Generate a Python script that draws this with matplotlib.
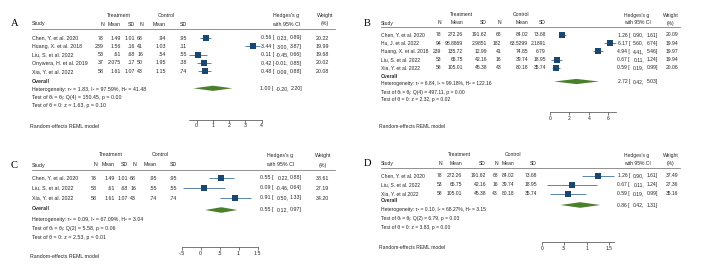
import numpy as np
import matplotlib
matplotlib.use("Agg")
import matplotlib.pyplot as plt
from matplotlib.lines import Line2D

plt.rcParams['font.family'] = ['Liberation Sans', 'DejaVu Sans']

W, H = 709, 277

# ---- Panel A data ----
studies_A = ["Chen, Y. et al. 2020", "Huang, X. et al. 2018", "Liu, S. et al. 2022",
             "Onywera, H. et al. 2019", "Xia, Y. et al. 2022"]
t_n_A = [78, 239, 53, 37, 58]
t_mean_A = [1.49, 1.56, 0.61, 2.075, 1.61]
t_sd_A = [1.01, 0.16, 0.68, 0.17, 1.07]
c_n_A = [68, 41, 16, 50, 43]
c_mean_A = [0.94, 1.03, 0.54, 1.95, 1.15]
c_sd_A = [0.95, 0.11, 0.55, 0.38, 0.74]
es_A = [0.56, 3.44, 0.11, 0.42, 0.48]
lo_A = [0.23, 3.00, -0.45, -0.01, 0.09]
hi_A = [0.89, 3.87, 0.66, 0.85, 0.88]
wt_A = [20.22, 19.99, 19.68, 20.02, 20.08]
overall_A = [1.00, -0.20, 2.20]
het_A = ["Heterogeneity: τ² = 1.83, I² = 97.59%, H² = 41.48",
         "Test of θᵢ = θⱼ: Q(4) = 150.45, p = 0.00",
         "Test of θ = 0: z = 1.63, p = 0.10"]
ticks_A = [0, 1, 2, 3, 4]
ticklabels_A = ["0", "1", "2", "3", "4"]

# ---- Panel B data ----
studies_B = ["Chen, Y. et al. 2020", "Hu, J. et al. 2022", "Huang, X. et al. 2018",
             "Liu, S. et al. 2022", "Xia, Y. et al. 2022"]
t_n_B = [78, 94, 239, 53, 58]
t_mean_B = [272.26, 98.8869, 135.72, 65.75, 105.01]
t_sd_B = [191.62, 2.9851, 12.99, 42.16, 45.38]
c_n_B = [68, 182, 41, 16, 43]
c_mean_B = [84.02, 83.5299, 74.85, 39.74, 80.18]
c_sd_B = [73.68, 2.1891, 6.79, 18.95, 35.74]
es_B = [1.26, 6.17, 4.94, 0.67, 0.59]
lo_B = [0.90, 5.60, 4.41, 0.11, 0.19]
hi_B = [1.61, 6.74, 5.46, 1.24, 0.99]
wt_B = [20.09, 19.94, 19.97, 19.94, 20.06]
overall_B = [2.72, 0.42, 5.03]
het_B = ["Heterogeneity: τ² = 6.84, I² = 99.18%, H² = 122.16",
         "Test of θᵢ = θⱼ: Q(4) = 497.11, p = 0.00",
         "Test of θ = 0: z = 2.32, p = 0.02"]
ticks_B = [0, 2, 4, 6]
ticklabels_B = ["0", "2", "4", "6"]

# ---- Panel C data ----
studies_C = ["Chen, Y. et al. 2020", "Liu, S. et al. 2022", "Xia, Y. et al. 2022"]
t_n_C = [78, 53, 58]
t_mean_C = [1.49, 0.61, 1.61]
t_sd_C = [1.01, 0.68, 1.07]
c_n_C = [68, 16, 43]
c_mean_C = [0.95, 0.55, 0.74]
c_sd_C = [0.95, 0.55, 0.74]
es_C = [0.55, 0.09, 0.91]
lo_C = [0.22, -0.46, 0.50]
hi_C = [0.88, 0.64, 1.33]
wt_C = [38.61, 27.19, 34.20]
overall_C = [0.55, 0.12, 0.97]
het_C = ["Heterogeneity: τ² = 0.09, I² = 67.09%, H² = 3.04",
         "Test of θᵢ = θⱼ: Q(2) = 5.58, p = 0.06",
         "Test of θ = 0: z = 2.53, p = 0.01"]
ticks_C = [-0.5, 0, 0.5, 1, 1.5]
ticklabels_C = ["-.5", "0", ".5", "1", "1.5"]

# ---- Panel D data ----
studies_D = ["Chen, Y. et al. 2020", "Liu, S. et al. 2022", "Xia, Y. et al 2022"]
t_n_D = [78, 53, 58]
t_mean_D = [272.26, 65.75, 105.01]
t_sd_D = [191.62, 42.16, 45.38]
c_n_D = [68, 16, 43]
c_mean_D = [84.02, 39.74, 80.18]
c_sd_D = [73.68, 18.95, 35.74]
es_D = [1.26, 0.67, 0.59]
lo_D = [0.90, 0.11, 0.19]
hi_D = [1.61, 1.24, 0.99]
wt_D = [37.49, 27.36, 35.16]
overall_D = [0.86, 0.42, 1.31]
het_D = ["Heterogeneity: τ² = 0.10, I² = 68.27%, H² = 3.15",
         "Test of θᵢ = θⱼ: Q(2) = 6.79, p = 0.03",
         "Test of θ = 0: z = 3.83, p = 0.00"]
ticks_D = [0, 0.5, 1, 1.5]
ticklabels_D = ["0", ".5", "1", "1.5"]

TXT = '#262626'
NAVY = '#1a476f'
CI_COL = '#3f6f9f'
GREEN = '#4b7f2c'


def fx(px):
    return px / W


def fy(py):
    return 1 - py / H


def stata_num(v):
    # Stata style: drop the leading zero
    s = f"{v:g}"
    if s.startswith("0."):
        s = s[1:]
    return s


def draw_panel(fig, letter, L, studies, cols, es, lo, hi, wt, overall, het,
               ticks, ticklabels):
    fs = L['fs']

    def txt(x, y, s, ha='left', **kw):
        fig.text(fx(x), fy(y), s, ha=ha, va='center', fontsize=fs, color=TXT, **kw)

    # panel letter
    fig.text(fx(L['letter'][0]), fy(L['letter'][1]), letter, family='Liberation Serif',
             fontsize=7.6, ha='left', va='center', color='black')
    sx = L['study_x']
    h1, h2 = L['head']
    txt(L['trt_c'], h1, "Treatment", ha='center')
    txt(L['ctl_c'], h1, "Control", ha='center')
    txt(L['hg_c'], h1, "Hedges's g", ha='center')
    txt(L['w_c'], h1, "Weight", ha='center')
    txt(sx, h2, "Study")
    for x, name in zip(L['cols'], ["N", "Mean", "SD", "N", "Mean", "SD"]):
        txt(x, h2, name, ha='right')
    txt(L['hg_c'], h2, "with 95% CI", ha='center')
    txt(L['w_c'], h2, "(%)", ha='center')
    fig.add_artist(Line2D([fx(sx), fx(L['rule_end'])], [fy(L['rule'])] * 2,
                          color='#666666', lw=0.5))

    rows = L['rows']
    ex = L['es_cols']
    for i, s in enumerate(studies):
        y = rows[i]
        txt(sx, y, s)
        vals = [str(cols[0][i]), stata_num(cols[1][i]), stata_num(cols[2][i]),
                str(cols[3][i]), stata_num(cols[4][i]), stata_num(cols[5][i])]
        for x, v in zip(L['cols'], vals):
            txt(x, y, v, ha='right')
        txt(ex[0], y, f"{es[i]:.2f} [", ha='right')
        txt(ex[1], y, f"{lo[i]:.2f},", ha='right')
        txt(ex[2], y, f"{hi[i]:.2f}]", ha='right')
        txt(ex[3], y, f"{wt[i]:.2f}", ha='right')

    # overall block
    txt(sx, L['overall'], "Overall", fontweight='bold')
    for yy, s in zip(L['het'], het):
        txt(sx, yy, s)
    yd = L['diamond']
    txt(ex[0], yd, f"{overall[0]:.2f} [", ha='right')
    txt(ex[1], yd, f"{overall[1]:.2f},", ha='right')
    txt(ex[2], yd, f"{overall[2]:.2f}]", ha='right')
    txt(sx - 2, L['model'], "Random-effects REML model")

    # forest axes: x in effect units, y in pixel rows
    x0, scale = L['zero'], L['ppu']
    left_px, right_px = L['ax_px']
    top_px, bot_px = L['ax_v']
    ax = fig.add_axes([fx(left_px), fy(bot_px), (right_px - left_px) / W,
                       (bot_px - top_px) / H])
    ax.set_xlim((left_px - x0) / scale, (right_px - x0) / scale)
    ax.set_ylim(bot_px, top_px)
    ax.patch.set_alpha(0)
    for sp in ['top', 'right', 'left']:
        ax.spines[sp].set_visible(False)
    ax.spines['bottom'].set_position(('data', L['axis_y']))
    ax.spines['bottom'].set_linewidth(0.5)
    ax.spines['bottom'].set_color('#444444')
    ax.spines['bottom'].set_bounds(min(min(lo), ticks[0]), max(max(hi), ticks[-1]))
    ax.set_yticks([])
    ax.set_xticks(ticks)
    ax.set_xticklabels(ticklabels)
    ax.tick_params(axis='x', length=2, width=0.5, pad=0.8, labelsize=fs,
                   colors='#444444', labelcolor=TXT)

    wmax = max(wt)
    for i in range(len(es)):
        y = rows[i]
        ax.hlines(y, lo[i], hi[i], color=CI_COL, lw=0.6)
        side = L['sq'] * np.sqrt(wt[i] / wmax)
        ax.plot(es[i], y, 's', ms=side * 0.72, color=NAVY, mec=NAVY, mew=0)
    hh = L['dh']
    ax.fill([overall[1], overall[0], overall[2], overall[0]],
            [yd, yd - hh, yd, yd + hh], color=GREEN, lw=0)
    return ax


fig = plt.figure(figsize=(W / 100, H / 100), dpi=100)

layout_A = dict(fs=3.8, letter=(11, 23), study_x=32, head=(15.5, 24), rule=28.5,
                rule_end=335, cols=[104, 121, 135, 143, 166, 187], trt_c=119, ctl_c=166,
                hg_c=286, w_c=325, es_cols=[274, 289, 302, 329],
                rows=[38, 46.3, 54.7, 63, 71.3], overall=81.7, diamond=88.3,
                het=[89.3, 97.7, 106], model=126,
                zero=196.7, ppu=16.25, ax_px=(178, 268), ax_v=(30, 135), axis_y=119.5,
                sq=6.5, dh=2.6)
layout_B = dict(fs=3.6, letter=(364, 23), study_x=381, head=(15, 23), rule=27.3,
                rule_end=680, cols=[441, 463, 487, 501, 528, 546], trt_c=461, ctl_c=521,
                hg_c=637, w_c=671, es_cols=[630, 644, 658, 678],
                rows=[35, 43.2, 51.4, 59.6, 67.8], overall=76.5, diamond=81.5,
                het=[84, 92, 100], model=126,
                zero=550, ppu=9.72, ax_px=(545, 620), ax_v=(28, 135), axis_y=112,
                sq=6.5, dh=2.6)
layout_C = dict(fs=3.8, letter=(11, 165), study_x=32, head=(155, 165), rule=170,
                rule_end=335, cols=[97, 115, 128, 136, 157, 177], trt_c=111, ctl_c=160,
                hg_c=280, w_c=323, es_cols=[274, 289, 302, 329],
                rows=[178, 188, 198], overall=208.3, diamond=210,
                het=[220, 228.3, 237.3], model=256.7,
                zero=200.5, ppu=38, ax_px=(178, 262), ax_v=(171, 275), axis_y=246.7,
                sq=6.2, dh=2.8)
layout_D = dict(fs=3.6, letter=(364, 163), study_x=381, head=(155, 163.5), rule=168,
                rule_end=680, cols=[442, 462, 486, 498, 514, 537], trt_c=459, ctl_c=513,
                hg_c=637, w_c=671, es_cols=[630, 644, 658, 678],
                rows=[175.5, 184.5, 193.5], overall=201, diamond=205,
                het=[209.3, 218.3, 227.3], model=247.3,
                zero=541.7, ppu=44.8, ax_px=(538, 618), ax_v=(169, 275), axis_y=241.7,
                sq=6.2, dh=2.8)

draw_panel(fig, "A", layout_A, studies_A,
           [t_n_A, t_mean_A, t_sd_A, c_n_A, c_mean_A, c_sd_A],
           es_A, lo_A, hi_A, wt_A, overall_A, het_A, ticks_A, ticklabels_A)
draw_panel(fig, "B", layout_B, studies_B,
           [t_n_B, t_mean_B, t_sd_B, c_n_B, c_mean_B, c_sd_B],
           es_B, lo_B, hi_B, wt_B, overall_B, het_B, ticks_B, ticklabels_B)
draw_panel(fig, "C", layout_C, studies_C,
           [t_n_C, t_mean_C, t_sd_C, c_n_C, c_mean_C, c_sd_C],
           es_C, lo_C, hi_C, wt_C, overall_C, het_C, ticks_C, ticklabels_C)
draw_panel(fig, "D", layout_D, studies_D,
           [t_n_D, t_mean_D, t_sd_D, c_n_D, c_mean_D, c_sd_D],
           es_D, lo_D, hi_D, wt_D, overall_D, het_D, ticks_D, ticklabels_D)

fig.savefig("out.png", dpi=100)
